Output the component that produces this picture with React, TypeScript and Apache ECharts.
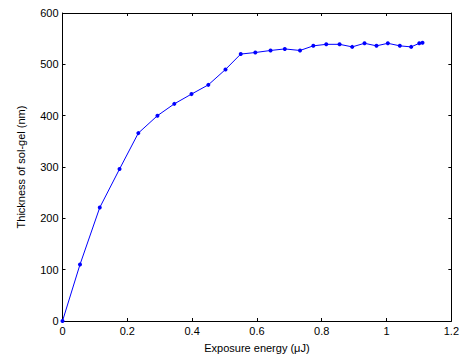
import React, { useEffect, useRef } from "react";
import * as echarts from "echarts";

const energy = [0, 0.054, 0.115, 0.176, 0.234, 0.293, 0.345, 0.398, 0.45, 0.503, 0.55, 0.595, 0.642, 0.686, 0.733, 0.774, 0.814, 0.855, 0.894, 0.932, 0.969, 1.004, 1.041, 1.076, 1.101, 1.111];
const thickness = [0, 110, 221, 296, 366, 400, 423, 442, 460, 490, 520, 523, 527, 530, 527, 536, 539, 539, 534, 541, 536, 541, 536, 534, 541, 542];

const xTitle = "Exposure energy (\u03bcJ)";
const yTitle = "Thickness of sol-gel (nm)";

const font = "'Liberation Sans', Arial, sans-serif";

export default function App() {
  const ref = useRef<HTMLDivElement>(null);
  useEffect(() => {
    const chart = echarts.init(ref.current!, undefined, { renderer: "svg" });
    const axisLine = { show: true, onZero: false, lineStyle: { color: "#000", width: 1 } };
    const tick = { show: true, inside: true, length: 3, lineStyle: { color: "#000" } };
    const fmtX = (v: number) => (Math.round(v * 10) / 10).toString();
    chart.setOption({
      animation: false,
      backgroundColor: "#fff",
      grid: { left: 62.5, right: 9.5, top: 13, bottom: 37, containLabel: false },
      xAxis: [
        {
          type: "value", min: 0, max: 1.2, interval: 0.2, position: "bottom",
          axisLine, axisTick: tick, splitLine: { show: false },
          axisLabel: { color: "#000", fontFamily: font, fontSize: 11, margin: 4, formatter: fmtX },
          name: xTitle, nameLocation: "middle", nameGap: 21,
          nameTextStyle: { color: "#000", fontFamily: font, fontSize: 11 },
        },
        {
          type: "value", min: 0, max: 1.2, interval: 0.2, position: "top",
          axisLine, axisTick: tick, splitLine: { show: false }, axisLabel: { show: false },
        },
      ],
      yAxis: [
        {
          type: "value", min: 0, max: 600, interval: 100, position: "left",
          axisLine, axisTick: tick, splitLine: { show: false },
          axisLabel: { color: "#000", fontFamily: font, fontSize: 11, margin: 4 },
          name: yTitle, nameLocation: "middle", nameGap: 36,
          nameTextStyle: { color: "#000", fontFamily: font, fontSize: 11 },
        },
        {
          type: "value", min: 0, max: 600, interval: 100, position: "right",
          axisLine, axisTick: tick, splitLine: { show: false }, axisLabel: { show: false },
        },
      ],
      series: [
        {
          type: "line",
          data: energy.map((x, i) => [x, thickness[i]]),
          xAxisIndex: 0, yAxisIndex: 0,
          lineStyle: { color: "#0000ff", width: 1 },
          itemStyle: { color: "#0000ff" },
          symbol: "circle", symbolSize: 4, showSymbol: true,
        },
      ],
    });
    return () => chart.dispose();
  }, []);
  return <div ref={ref} style={{ width: 462, height: 358, position: "absolute", left: 0, top: 0 }} />;
}
